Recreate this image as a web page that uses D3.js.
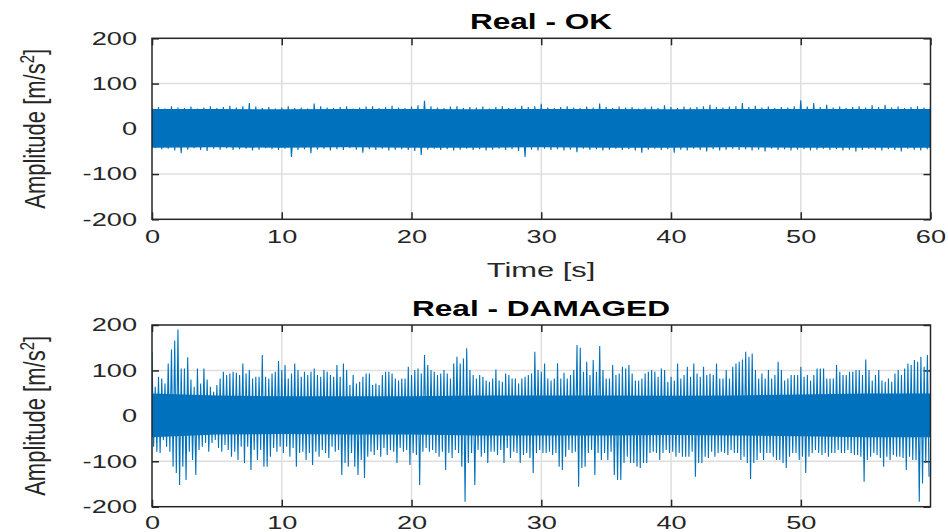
<!DOCTYPE html>
<html>
<head>
<meta charset="utf-8">
<script src="https://cdn.jsdelivr.net/npm/d3@7"></script>
<style>
  body { margin: 0; background: #fff; }
  svg { display: block; font-family: "Liberation Sans", Arial, Helvetica, sans-serif; }
</style>
</head>
<body>
<svg id="chart" width="948" height="532"></svg>
<script>
// Real - OK : one peak and one trough read every 0.5 s
const okStep = 0.5;
const okPeaks = [
  46, 48, 45, 50, 47, 46, 49, 45, 47, 50,
  46, 48, 51, 47, 50, 57, 49, 46, 48, 45,
  47, 50, 46, 47, 45, 56, 50, 47, 46, 48,
  50, 45, 47, 49, 50, 46, 48, 51, 47, 46,
  49, 52, 62, 50, 47, 46, 49, 50, 46, 48,
  47, 49, 45, 48, 50, 46, 47, 51, 48, 50,
  55, 47, 46, 48, 50, 47, 46, 49, 47, 56,
  48, 46, 49, 47, 48, 45, 47, 49, 46, 52,
  48, 46, 49, 47, 48, 50, 53, 48, 47, 49,
  50, 57, 48, 51, 47, 49, 46, 48, 47, 50,
  63, 49, 57, 48, 53, 47, 49, 46, 48, 50,
  47, 52, 48, 53, 47, 49, 46, 48, 50, 47,
  48
];
const okTroughs = [
  -42, -45, -44, -48, -54, -46, -43, -47, -49, -44,
  -46, -43, -47, -45, -44, -48, -46, -43, -45, -47,
  -44, -62, -47, -45, -54, -46, -44, -48, -45, -47,
  -43, -46, -53, -45, -47, -44, -48, -46, -45, -47,
  -49, -58, -46, -44, -47, -45, -48, -46, -44, -47,
  -45, -48, -46, -44, -47, -45, -49, -62, -46, -48,
  -44, -47, -45, -48, -46, -52, -44, -47, -45, -48,
  -46, -44, -47, -45, -48, -53, -46, -44, -47, -45,
  -53, -46, -48, -44, -47, -50, -45, -48, -46, -44,
  -47, -45, -48, -46, -50, -44, -47, -45, -48, -46,
  -45, -48, -46, -44, -47, -45, -48, -46, -50, -47,
  -44, -46, -48, -45, -47, -50, -44, -46, -48, -45,
  -47
];
// solid core of the band, read every 5 s
const coreTimes = [0, 5, 10, 15, 20, 25, 30, 35, 40, 45, 50, 55, 60];
const okCoreHi = [44, 44, 43, 44, 44, 43, 44, 44, 43, 44, 44, 44, 44];
const okCoreLo = [-42, -41, -42, -41, -42, -42, -41, -42, -42, -41, -42, -42, -42];

// Real - DAMAGED : one peak and one trough read every 0.25 s
const dmgStep = 0.25;
const dmgPeaks = [
  141, 64, 86, 82, 71, 115, 146, 166, 190, 104, 104, 129, 80, 64, 104, 71, 104, 80, 64, 53,
  68, 82, 97, 90, 93, 97, 95, 90, 115, 93, 101, 82, 86, 86, 134, 86, 82, 93, 97, 121,
  101, 112, 82, 93, 115, 101, 86, 97, 90, 97, 104, 90, 86, 101, 97, 90, 86, 112, 86, 115,
  101, 68, 90, 71, 75, 86, 93, 93, 68, 71, 68, 90, 97, 97, 93, 82, 78, 82, 82, 108,
  90, 101, 104, 93, 134, 112, 101, 97, 90, 93, 101, 93, 82, 115, 130, 115, 126, 149, 101, 90,
  82, 90, 86, 78, 75, 82, 102, 78, 75, 93, 90, 82, 82, 71, 82, 86, 90, 93, 141, 101,
  97, 115, 82, 78, 82, 116, 82, 95, 82, 90, 101, 156, 150, 97, 119, 90, 123, 97, 154, 101,
  82, 82, 112, 90, 93, 108, 104, 112, 93, 78, 78, 82, 93, 97, 101, 97, 86, 104, 101, 75,
  86, 78, 115, 82, 90, 108, 86, 115, 93, 86, 108, 90, 93, 90, 115, 82, 82, 101, 82, 108,
  115, 119, 124, 141, 130, 137, 101, 82, 93, 82, 101, 82, 90, 119, 101, 78, 82, 90, 90, 90,
  108, 86, 90, 78, 90, 104, 104, 104, 82, 82, 82, 112, 97, 90, 90, 97, 97, 101, 101, 90,
  124, 101, 78, 90, 101, 78, 75, 82, 75, 93, 101, 90, 104, 115, 112, 123, 119, 130, 108, 134
];
const dmgTroughs = [
  -68, -79, -82, -53, -68, -79, -112, -126, -152, -112, -141, -79, -97, -130, -75, -68, -60, -79, -60, -53,
  -71, -79, -64, -75, -90, -79, -97, -68, -104, -68, -119, -75, -97, -75, -112, -112, -90, -71, -79, -68,
  -82, -68, -90, -71, -112, -82, -79, -97, -82, -108, -79, -90, -75, -82, -93, -68, -79, -75, -130, -104,
  -112, -82, -112, -130, -97, -137, -90, -79, -86, -75, -90, -71, -86, -75, -79, -104, -71, -79, -75, -108,
  -82, -86, -152, -79, -71, -79, -75, -82, -90, -79, -119, -82, -93, -75, -82, -112, -189, -104, -82, -152,
  -75, -90, -82, -104, -79, -79, -86, -75, -104, -71, -93, -79, -82, -104, -86, -82, -93, -126, -82, -75,
  -82, -82, -79, -86, -82, -112, -119, -90, -75, -82, -79, -156, -115, -112, -82, -75, -130, -82, -97, -82,
  -97, -79, -130, -141, -141, -104, -90, -104, -104, -112, -115, -104, -104, -82, -79, -82, -97, -82, -75, -82,
  -79, -90, -82, -90, -90, -90, -79, -134, -104, -104, -90, -93, -79, -90, -82, -79, -82, -86, -75, -82,
  -82, -97, -90, -104, -139, -104, -97, -82, -97, -82, -82, -90, -97, -97, -104, -115, -90, -82, -82, -97,
  -90, -126, -90, -82, -75, -82, -86, -82, -90, -82, -82, -75, -82, -82, -75, -82, -86, -86, -90, -145,
  -97, -90, -82, -86, -93, -112, -90, -97, -86, -90, -90, -93, -119, -90, -97, -97, -189, -149, -104, -134
];
const dmgCoreHi = [49, 45, 43, 43, 43, 45, 45, 45, 44, 45, 47, 49, 49];
const dmgCoreLo = [-47, -41, -40, -41, -41, -43, -43, -43, -42, -43, -45, -47, -47];

const yTicks = [-200, -100, 0, 100, 200];
const okXTicks = [0, 10, 20, 30, 40, 50, 60];
const dmgXTicks = [0, 10, 20, 30, 40, 50];

const blue = "#0072BD";
const stretch = 1.47;   // the picture is widened, text too

const svg = d3.select("#chart");

function drawPanel(o) {
    const x = d3.scaleLinear().domain(o.xDomain).range([152, 930.5]);
    const y = d3.scaleLinear().domain([-200, 200]).range([o.bottom, o.top]);
    const g = svg.append("g");

    // grid
    g.append("g").selectAll("line")
        .data(o.xTicks.filter(d => d > o.xDomain[0] && d < o.xDomain[1]))
        .join("line")
        .attr("x1", d => x(d)).attr("x2", d => x(d))
        .attr("y1", y(-200)).attr("y2", y(200))
        .attr("stroke", "#dedede").attr("stroke-width", 1.5);
    g.append("g").selectAll("line")
        .data(yTicks.filter(d => d > -200 && d < 200))
        .join("line")
        .attr("x1", x.range()[0]).attr("x2", x.range()[1])
        .attr("y1", d => y(d)).attr("y2", d => y(d))
        .attr("stroke", "#dedede").attr("stroke-width", 1.5);

    // axes, ticks pointing in
    const plain = d => String(d);
    g.append("g")
        .attr("transform", `translate(0,${o.bottom})`)
        .call(d3.axisBottom(x).tickValues(o.xTicks).tickFormat(plain)
            .tickSize(-7).tickSizeOuter(0).tickPadding(o.xPad));
    g.append("g")
        .attr("transform", `translate(0,${o.top})`)
        .call(d3.axisTop(x).tickValues(o.xTicks).tickSize(-7).tickSizeOuter(0).tickFormat(""));
    g.append("g")
        .attr("transform", `translate(${x.range()[0]},0)`)
        .call(d3.axisLeft(y).tickValues(yTicks).tickFormat(plain)
            .tickSize(-7).tickSizeOuter(0).tickPadding(10.2));
    g.append("g")
        .attr("transform", `translate(${x.range()[1]},0)`)
        .call(d3.axisRight(y).tickValues(yTicks).tickSize(-7).tickSizeOuter(0).tickFormat(""));

    g.selectAll(".domain").remove();
    g.selectAll(".tick line").attr("stroke", "#262626").attr("stroke-width", 1.5);
    g.selectAll(".tick text")
        .attr("fill", "#262626")
        .attr("font-size", 18.5)
        .attr("font-family", "'Liberation Sans', Arial, sans-serif")
        .attr("transform", `scale(${stretch},1)`);

    // signal
    const clipId = "clip" + Math.round(o.top);
    g.append("clipPath").attr("id", clipId)
        .append("rect")
        .attr("x", x.range()[0]).attr("y", o.top)
        .attr("width", x.range()[1] - x.range()[0]).attr("height", o.bottom - o.top);

    const plot = g.append("g").attr("clip-path", `url(#${clipId})`);

    const core = d3.area()
        .x((d, i) => x(coreTimes[i]))
        .y0(d => y(d[1]))
        .y1(d => y(d[0]));
    plot.append("path")
        .datum(o.coreHi.map((h, i) => [h, o.coreLo[i]]))
        .attr("d", core)
        .attr("fill", blue);

    const samples = o.peaks.flatMap((p, i) => [
        [i * o.step, p],
        [i * o.step + o.step / 2, o.troughs[i]]
    ]);
    const line = d3.line().x(d => x(d[0])).y(d => y(d[1]));
    plot.append("path")
        .datum(samples)
        .attr("d", line)
        .attr("fill", "none")
        .attr("stroke", blue)
        .attr("stroke-width", 1.1);

    // box
    g.append("rect")
        .attr("x", x.range()[0]).attr("y", o.top)
        .attr("width", x.range()[1] - x.range()[0]).attr("height", o.bottom - o.top)
        .attr("fill", "none")
        .attr("stroke", "#262626")
        .attr("stroke-width", 1.5);

    // title
    g.append("text")
        .attr("transform", `translate(541,${o.top - 9}) scale(${stretch},1)`)
        .attr("text-anchor", "middle")
        .attr("font-size", 21.5)
        .attr("font-weight", "bold")
        .attr("fill", "#000")
        .text(o.title);

    // y label
    const yl = g.append("text")
        .attr("transform", `translate(45,${(o.top + o.bottom) / 2}) scale(1.38,1) rotate(-90)`)
        .attr("text-anchor", "middle")
        .attr("font-size", 22)
        .attr("fill", "#262626");
    yl.append("tspan").text("Amplitude [m/s");
    yl.append("tspan").attr("font-size", 15).attr("dy", -8).text("2");
    yl.append("tspan").attr("dy", 8).text("]");

    if (o.xLabel) {
        g.append("text")
            .attr("transform", `translate(541,${o.bottom + 57.5}) scale(${stretch},1)`)
            .attr("text-anchor", "middle")
            .attr("font-size", 21)
            .attr("fill", "#262626")
            .text(o.xLabel);
    }
}

drawPanel({
    top: 38.3, bottom: 219.3,
    xDomain: [0, 60], xTicks: okXTicks, xPad: 11,
    step: okStep, peaks: okPeaks, troughs: okTroughs,
    coreHi: okCoreHi, coreLo: okCoreLo,
    title: "Real - OK", xLabel: "Time [s]"
});

drawPanel({
    top: 325, bottom: 506.7,
    xDomain: [0, 59.99], xTicks: dmgXTicks, xPad: 9,
    step: dmgStep, peaks: dmgPeaks, troughs: dmgTroughs,
    coreHi: dmgCoreHi, coreLo: dmgCoreLo,
    title: "Real - DAMAGED", xLabel: null
});
</script>
</body>
</html>
